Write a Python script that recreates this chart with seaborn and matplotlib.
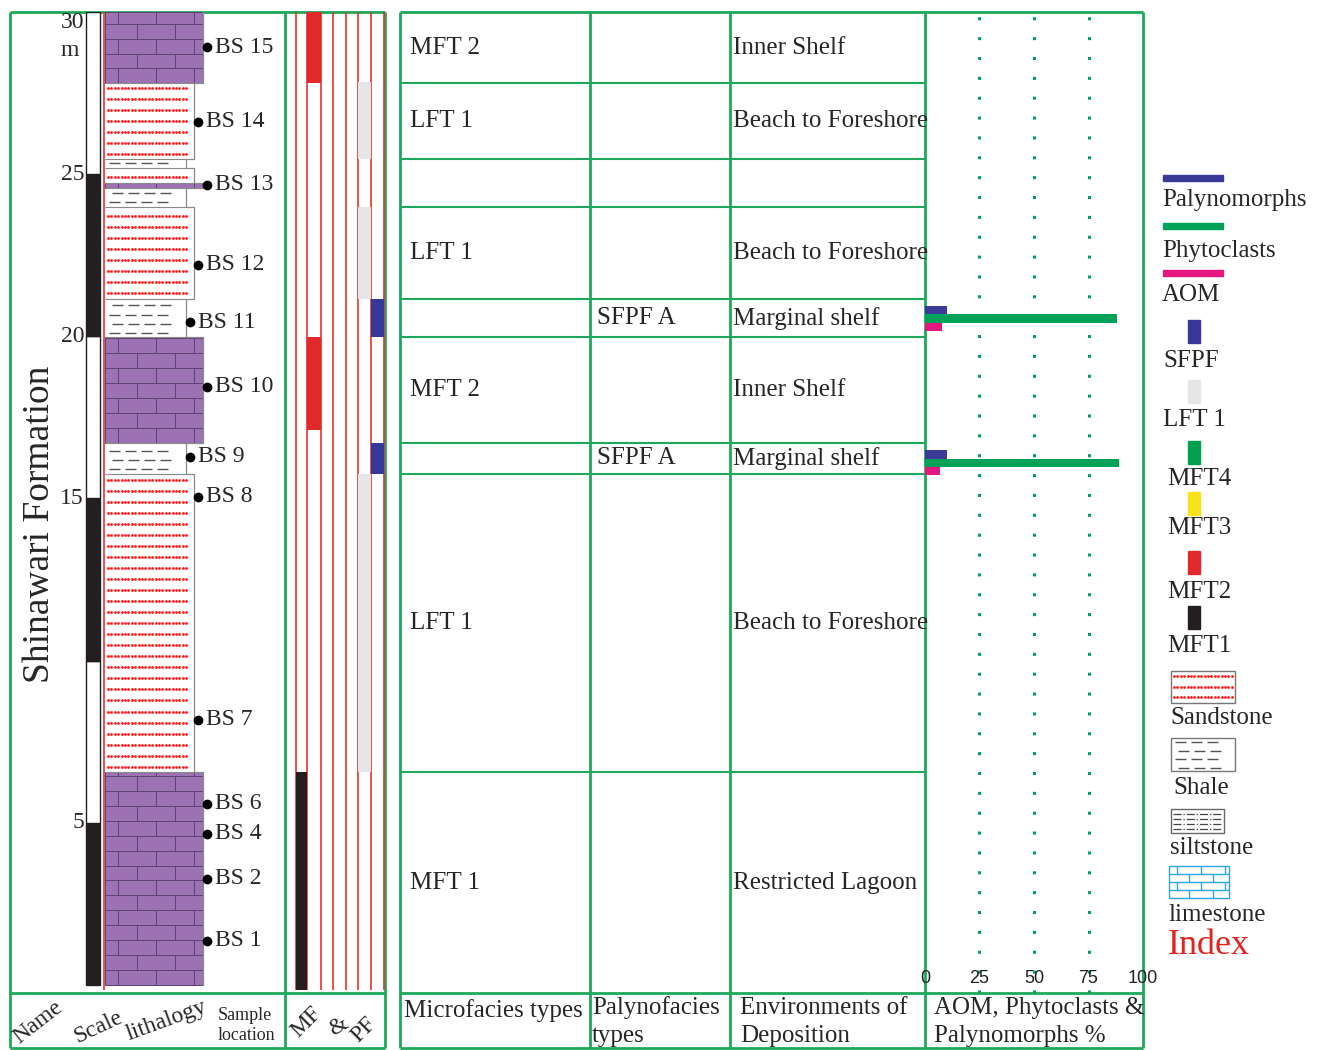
import numpy as np
import pandas as pd
import matplotlib
matplotlib.use('Agg')
import matplotlib.pyplot as plt
import seaborn as sns
from matplotlib.patches import Rectangle

# ---- values (depths in metres above base) ----
layer_base = [0.0, 6.56, 15.76, 16.72, 19.97, 21.15, 23.99, 24.58, 24.73, 25.2, 25.46, 27.8]
layer_top = [6.56, 15.76, 16.72, 19.97, 21.15, 23.99, 24.58, 24.73, 25.2, 25.46, 27.8, 30.0]
layer_rock = ['limestone', 'sandstone', 'shale', 'limestone', 'shale', 'sandstone',
              'shale', 'limestone', 'sandstone', 'shale', 'sandstone', 'limestone']

sample_names = ['BS 1', 'BS 2', 'BS 4', 'BS 6', 'BS 7', 'BS 8', 'BS 9',
                'BS 10', 'BS 11', 'BS 12', 'BS 13', 'BS 14', 'BS 15']
sample_depth = [1.36, 3.27, 4.66, 5.58, 8.17, 15.05, 16.28,
                18.44, 20.44, 22.20, 24.67, 26.61, 28.92]

scale_ticks = [5, 15, 20, 25, 30]
scale_edges = [0, 5, 10, 15, 20, 25, 30]

zone_top = [30.0, 27.8, 25.46, 23.99, 21.15, 19.97, 16.72, 15.76, 6.56]
zone_base = [27.8, 25.46, 23.99, 21.15, 19.97, 16.72, 15.76, 6.56, -0.25]
microfacies = ['MFT 2', 'LFT 1', '', 'LFT 1', '', 'MFT 2', '', 'LFT 1', 'MFT 1']
palynofacies = ['', '', '', '', 'SFPF A', '', 'SFPF A', '', '']
environment = ['Inner Shelf', 'Beach to Foreshore', '', 'Beach to Foreshore',
               'Marginal shelf', 'Inner Shelf', 'Marginal shelf',
               'Beach to Foreshore', 'Restricted Lagoon']

facies_code = ['MFT2', 'MFT2', 'MFT1', 'LFT1', 'LFT1', 'LFT1', 'SFPF', 'SFPF']
facies_base = [27.8, 17.1, -0.15, 25.46, 21.15, 6.56, 19.97, 15.76]
facies_top = [30.0, 19.97, 6.56, 27.85, 23.99, 15.76, 21.15, 16.72]

bar_depth = [20.55, 20.55, 20.55, 16.1, 16.1, 16.1]
bar_component = ['Palynomorphs', 'Phytoclasts', 'AOM',
                 'Palynomorphs', 'Phytoclasts', 'AOM']
bar_value = [10, 88, 8, 10, 89, 7]
pct_ticks = [0, 25, 50, 75, 100]

# ---- style ----
sns.set_style('white')
plt.rcParams['font.family'] = ['Liberation Serif', 'DejaVu Serif']

GREEN = '#1ea95a'
RED = '#e8322e'
comp_colors = {'Palynomorphs': '#3a3a98', 'Phytoclasts': '#00a159', 'AOM': '#e4167f'}
facies_colors = {'MFT1': '#231f20', 'MFT2': '#e1292b', 'MFT3': '#f7e21b',
                 'MFT4': '#00a04f', 'LFT1': '#e6e6e8', 'SFPF': '#38389a'}

W, H = 1322, 1050
TOP, BOT, HEAD = 12, 993, 1048
LITH_X0 = 105
rock_right = {'limestone': 203, 'sandstone': 194, 'shale': 186}
mf_lines = [296, 307, 321, 333, 346, 358, 371, 384]
slot_index = {'MFT1': 0, 'MFT2': 1, 'MFT3': 2, 'MFT4': 3, 'LFT1': 5, 'SFPF': 6}


def bricks(ax, x0, x1, y0, y1, row_h, brick_w, face, edge, lw=0.7):
    ax.add_patch(Rectangle((x0, y0), x1 - x0, y1 - y0, facecolor=face,
                           edgecolor=edge, lw=lw, zorder=2))
    rows = np.arange(y0, y1, row_h)
    ax.hlines(rows[1:], x0, x1, color=edge, lw=lw, zorder=3)
    for i, r in enumerate(rows):
        xs = np.arange(x0 + (i % 2) * brick_w / 2 + brick_w / 3, x1, brick_w)
        ax.vlines(xs, r, min(r + row_h, y1), color=edge, lw=lw, zorder=3)


def sand(ax, x0, x1, y0, y1, step, edge=None):
    if edge:
        ax.add_patch(Rectangle((x0, y0), x1 - x0, y1 - y0, facecolor='white',
                               edgecolor=edge, lw=1, zorder=2))
    rows = np.arange(y0 + step / 2, y1, step)
    xs = np.arange(x0 + 3, x1 - 3, 3.4)
    gx, gy = np.meshgrid(xs, rows)
    ax.scatter(gx.ravel(), gy.ravel(), s=4, color='#ff1a1a', lw=0, zorder=3)


def shale(ax, x0, x1, y0, y1, step, edge=None):
    if edge:
        ax.add_patch(Rectangle((x0, y0), x1 - x0, y1 - y0, facecolor='white',
                               edgecolor=edge, lw=1, zorder=2))
    rows = np.arange(y0 + step / 2, y1, step)
    for i, r in enumerate(rows):
        starts = np.arange(x0 + 4 + (i % 2) * 3, x1 - 12, 16)
        ax.hlines([r] * len(starts), starts, starts + 11, color='#555555', lw=1, zorder=3)


fig = plt.figure(figsize=(W / 100, H / 100), dpi=100)

# pixel canvas for frames, headers and index
px = fig.add_axes([0, 0, 1, 1])
px.set_xlim(0, W)
px.set_ylim(H, 0)
px.axis('off')

# depth axes for the log and table
ax = fig.add_axes([10 / W, 1 - BOT / H, (1143 - 10) / W, (BOT - TOP) / H])
ax.set_xlim(10, 1143)
ax.set_ylim(-0.25, 30)
ax.axis('off')

# frames
for x in [10, 285, 385, 400, 590, 730, 925, 1143]:
    px.vlines(x, TOP, HEAD, color=GREEN, lw=2)
for y in [TOP, BOT, HEAD]:
    px.hlines(y, 10, 385, color=GREEN, lw=2)
    px.hlines(y, 400, 1143, color=GREEN, lw=2)

# scale bar
for i in range(len(scale_edges) - 1):
    b, t = scale_edges[i], scale_edges[i + 1]
    fc = '#231f20' if i % 2 == 0 else 'white'
    ax.add_patch(Rectangle((86, b), 14, t - b, facecolor=fc, edgecolor='#231f20', lw=1))
for t in scale_ticks:
    ax.text(84, t, str(t), ha='right', va='top' if t == 30 else 'center', fontsize=17)
px.text(70, 50, 'm', ha='center', va='center', fontsize=17)

px.text(40, 524, 'Shinawari Formation', rotation=90, ha='center', va='center', fontsize=27)

# lithology
for b, t, rock in zip(layer_base, layer_top, layer_rock):
    x1 = rock_right[rock]
    if rock == 'limestone':
        bricks(ax, LITH_X0, x1, b, t, 0.46, 38, '#9c72b4', '#5e4270')
    elif rock == 'sandstone':
        sand(ax, LITH_X0, x1 - 3, b, t, 0.34)
    else:
        shale(ax, LITH_X0, x1 - 2, b, t, 0.28)

edge_x, edge_y = [], []
for b, t, rock in zip(layer_base, layer_top, layer_rock):
    edge_x += [rock_right[rock]] * 2
    edge_y += [b, t]
ax.plot(edge_x, edge_y, color='#8a8a8a', lw=0.9, zorder=4)
for b, prev, cur in zip(layer_base[1:], layer_rock[:-1], layer_rock[1:]):
    ax.hlines(b, LITH_X0, min(rock_right[prev], rock_right[cur]), color='#8a8a8a', lw=0.8, zorder=4)
ax.vlines(104, -0.15, 30, color=RED, lw=1.2, zorder=5)

# sample locations
for name, d in zip(sample_names, sample_depth):
    k = [i for i in range(len(layer_base)) if layer_base[i] <= d < layer_top[i]][0]
    xd = rock_right[layer_rock[k]] + 4
    ax.plot(xd, d, 'o', color='black', ms=6, zorder=6)
    ax.text(xd + 8, d, name, ha='left', va='center', fontsize=17)

# MF & PF column
ax.vlines(mf_lines, -0.15, 30, color=RED, lw=1.2, zorder=2)
for c, b, t in zip(facies_code, facies_base, facies_top):
    i = slot_index[c]
    ax.add_patch(Rectangle((mf_lines[i], b), mf_lines[i + 1] - mf_lines[i], t - b,
                           facecolor=facies_colors[c], edgecolor='none', zorder=3))

# table rows and labels
ax.hlines(zone_base[:-1], 400, 925, color=GREEN, lw=1.5)
for t, b, mf, pf, env in zip(zone_top, zone_base, microfacies, palynofacies, environment):
    yc = (t + b) / 2
    ax.text(410, yc, mf, ha='left', va='center', fontsize=18)
    ax.text(597, yc, pf, ha='left', va='center', fontsize=18)
    ax.text(733, yc, env, ha='left', va='center', fontsize=18)

# percentage bars
bx = fig.add_axes([925 / W, 1 - BOT / H, (1143 - 925) / W, (BOT - TOP) / H])
df = pd.DataFrame({'depth': bar_depth, 'component': bar_component, 'value': bar_value})
gap = np.min(np.diff(np.unique(bar_depth)))
sns.barplot(data=df, x='value', y='depth', hue='component',
            hue_order=['AOM', 'Phytoclasts', 'Palynomorphs'], palette=comp_colors,
            orient='y', native_scale=True, width=0.77 / gap, errorbar=None,
            saturation=1, linewidth=0, legend=False, ax=bx)
for t in pct_ticks[1:-1]:
    bx.axvline(t, color='#00a15a', ls=(0, (1, 5.5)), lw=2.2, zorder=1)
bx.set_xlim(0, 100)
bx.set_ylim(-0.25, 30)
bx.axis('off')
for t in pct_ticks:
    bx.text(t, 0.2, str(t), ha='center', va='center', fontsize=13,
            family='Liberation Sans', color='#222222')

# header row
hdr = dict(ha='center', va='center', rotation_mode='anchor', fontsize=17)
px.text(38, 1022, 'Name', rotation=38, **hdr)
px.text(98, 1027, 'Scale', rotation=25, **hdr)
px.text(166, 1021, 'lithalogy', rotation=20, **hdr)
px.text(218, 1015, 'Sample', ha='left', va='center', fontsize=13)
px.text(218, 1036, 'location', ha='left', va='center', fontsize=13)
px.text(306, 1022, 'MF', rotation=45, **hdr)
px.text(338, 1027, '&', rotation=30, **hdr)
px.text(364, 1030, 'PF', rotation=45, **hdr)
px.text(404, 1011, 'Microfacies types', ha='left', va='center', fontsize=18)
px.text(592, 1008, 'Palynofacies', ha='left', va='center', fontsize=18)
px.text(592, 1036, 'types', ha='left', va='center', fontsize=18)
px.text(740, 1008, 'Environments of', ha='left', va='center', fontsize=18)
px.text(740, 1036, 'Deposition', ha='left', va='center', fontsize=18)
px.text(934, 1008, 'AOM, Phytoclasts &', ha='left', va='center', fontsize=18)
px.text(934, 1036, 'Palynomorphs %', ha='left', va='center', fontsize=18)

# index (legend)
for name, ys, yt in [('Palynomorphs', 178, 200), ('Phytoclasts', 226, 251), ('AOM', 273, 295)]:
    px.add_patch(Rectangle((1163, ys - 3), 60, 6, color=comp_colors[name]))
    px.text(1162, yt, name, ha='left', va='center', fontsize=18)
for code, label, ys, yt in [('SFPF', 'SFPF', 331, 361), ('LFT1', 'LFT 1', 391, 420),
                            ('MFT4', 'MFT4', 452, 479), ('MFT3', 'MFT3', 503, 528),
                            ('MFT2', 'MFT2', 562, 592), ('MFT1', 'MFT1', 617, 646)]:
    px.add_patch(Rectangle((1188, ys - 11), 12, 23, color=facies_colors[code]))
    px.text(1163 if code in ('SFPF', 'LFT1') else 1167, yt, label, ha='left', va='center', fontsize=18)

sand(px, 1171, 1235, 671, 703, 10.5, edge='#777777')
px.text(1170, 718, 'Sandstone', ha='left', va='center', fontsize=18)
shale(px, 1171, 1235, 738, 771, 8.5, edge='#777777')
px.text(1173, 788, 'Shale', ha='left', va='center', fontsize=18)
px.add_patch(Rectangle((1171, 809), 53, 24, facecolor='white', edgecolor='#666666', lw=1))
px.hlines(np.arange(814, 832, 5), 1173, 1222, color='#444444', lw=0.9, linestyles='dashdot')
px.text(1170, 848, 'siltstone', ha='left', va='center', fontsize=18)
bricks(px, 1169, 1229, 866, 898, 8, 24, 'none', '#29abe2', lw=1)
px.text(1168, 915, 'limestone', ha='left', va='center', fontsize=18)
px.text(1168, 945, 'Index', ha='left', va='center', fontsize=26, color='#e3231f')

fig.savefig('out.png', dpi=100)
